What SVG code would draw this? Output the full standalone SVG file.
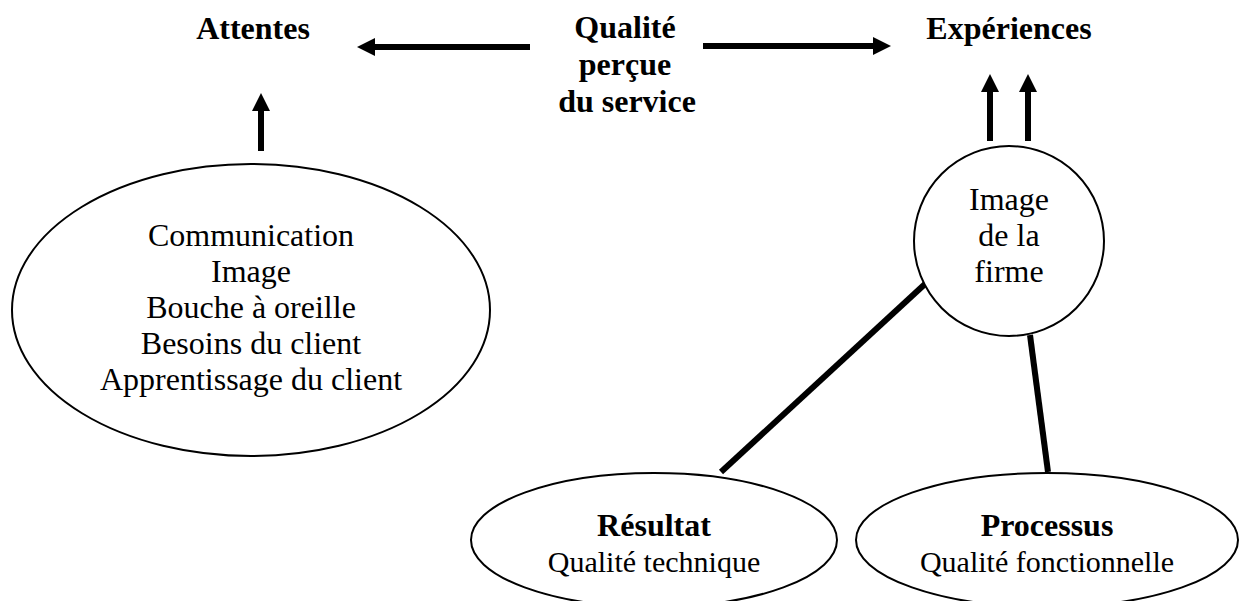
<svg xmlns="http://www.w3.org/2000/svg" width="1239" height="601" viewBox="0 0 1239 601">
<style>
.b{font-family:"Liberation Serif","Times New Roman",serif;font-weight:bold;font-size:32px;text-anchor:middle;fill:#000}
.r{font-family:"Liberation Serif","Times New Roman",serif;font-size:32px;text-anchor:middle;fill:#000}
.s{font-family:"Liberation Serif","Times New Roman",serif;font-size:30px;text-anchor:middle;fill:#000}
.shape{fill:#fff;stroke:#000;stroke-width:2}
.arr{stroke:#000;stroke-width:6;fill:none;marker-end:url(#ah)}
.ln{stroke:#000;stroke-width:6;fill:none}
</style>
<defs>
<marker id="ah" viewBox="0 0 18 18" refX="0" refY="9" markerWidth="18" markerHeight="18" markerUnits="userSpaceOnUse" orient="auto"><path d="M0,0 L18,9 L0,18 z" fill="#000"/></marker>
</defs>
<rect width="1239" height="601" fill="#fff"/>
<g id="connectors">
<line class="arr" x1="530" y1="47" x2="375" y2="47"/>
<line class="arr" x1="703" y1="46" x2="873" y2="46"/>
<line class="arr" x1="261" y1="151" x2="261" y2="111"/>
<line class="arr" x1="990" y1="141" x2="990" y2="92"/>
<line class="arr" x1="1028" y1="141" x2="1028" y2="92"/>
<line class="ln" x1="925" y1="284" x2="721" y2="472"/>
<line class="ln" x1="1030" y1="335" x2="1048" y2="472"/>
</g>
<g id="attentes"><text class="b" x="253" y="39">Attentes</text></g>
<g id="qualite"><text class="b" x="625" y="38">Qualité</text><text class="b" x="625" y="75">perçue</text><text class="b" x="627" y="112">du service</text></g>
<g id="experiences"><text class="b" x="1009" y="39">Expériences</text></g>
<g id="sources">
<ellipse class="shape" cx="251" cy="310" rx="239" ry="146"/>
<text class="r" x="251" y="246">Communication</text>
<text class="r" x="251" y="282">Image</text>
<text class="r" x="251" y="318">Bouche à oreille</text>
<text class="r" x="251" y="354">Besoins du client</text>
<text class="r" x="251" y="390">Apprentissage du client</text>
</g>
<g id="image-firme">
<circle class="shape" cx="1009" cy="241" r="95"/>
<text class="r" x="1009" y="210">Image</text>
<text class="r" x="1009" y="246">de la</text>
<text class="r" x="1009" y="282">firme</text>
</g>
<g id="resultat">
<ellipse class="shape" cx="654" cy="540" rx="183" ry="67"/>
<text class="b" x="654" y="536">Résultat</text>
<text class="s" x="654" y="572">Qualité technique</text>
</g>
<g id="processus">
<ellipse class="shape" cx="1047" cy="540" rx="191" ry="67"/>
<text class="b" x="1047" y="536">Processus</text>
<text class="s" x="1047" y="572">Qualité fonctionnelle</text>
</g>
</svg>
